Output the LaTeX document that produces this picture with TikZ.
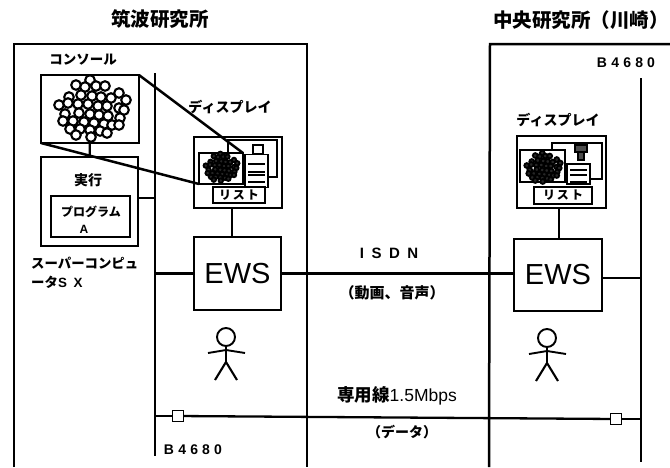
\documentclass[tikz,border=0pt]{standalone}
\usepackage{fontspec}
\setmainfont{Liberation Sans}
\newfontfamily\cjk{Noto Sans CJK JP}
\newfontfamily\spaced[LetterSpace=30]{Liberation Sans}
\newfontfamily\wide[LetterSpace=50]{Liberation Sans}
\newcommand{\blobcells}[1]{%
    \foreach \cx/\cy in {90/80,76/85,85/87,96/86,105/86,119/93,126/100,69/97,81/95,92/96,101/97,111/98,
                         59/105,68/103,78/104,88/104,98/106,107/106,119/108,65/114,79/113,
                         90/114,99/115,108/116,124/110,120/118,63/121,73/121,84/122,94/123,104/124,
                         70/129,80/129,90/130,100/131,112/125,119/125,107/133,
                         76/135,91/137}
        \draw[#1] (\cx,\cy) circle (4.8);
}
\tikzset{
    box/.style={draw, line width=2.3pt, rectangle, outer sep=0pt, inner sep=0pt, fill=white},
    wire/.style={line width=2.3pt},
    lab/.style={inner sep=0pt, font=\cjk\bfseries\fontsize{13.5}{16}\selectfont},
    tag/.style={inner sep=0pt, font=\spaced\bfseries\fontsize{14}{16}\selectfont}
}
\begin{document}
\begin{tikzpicture}[x=1pt,y=-1pt]
    \useasboundingbox (0,0) rectangle (670,467);
    \fill[white] (0,0) rectangle (670,467);
    % rooms
    \draw[line width=2.5pt] (14,467) -- (14,44) -- (307,44) -- (307,467);
    \draw[line width=2.5pt] (489,467) -- (490,44) -- (670,44);
    \node[inner sep=0pt, font=\cjk\bfseries\fontsize{19.5}{22}\selectfont] (title1) at (160,19) {筑波研究所};
    \node[inner sep=0pt, font=\cjk\bfseries\fontsize{19.5}{24}\selectfont] (title2) at (581,20) {中央研究所（川崎）};
    % buses
    \coordinate (bus1top) at (155,73);
    \coordinate (bus1bot) at (155,456);
    \coordinate (bus2top) at (641,78);
    \coordinate (bus2bot) at (641,462);
    \draw[line width=2.5pt] (bus1top) -- (bus1bot);
    \draw[line width=2.5pt] (bus2top) -- (bus2bot);
    % left side
    \node[box, minimum width=98pt, minimum height=68pt] (console) at (90,109) {};
    \begin{scope}
        \blobcells{line width=2.1pt, fill=white}
    \end{scope}
    \node[box, minimum width=97pt, minimum height=89pt] (super) at (89.5,201.5) {};
    \node[box, minimum width=79pt, minimum height=41pt] (prog) at (90.5,216.5) {};
    \coordinate (busa) at (155,198);
    \draw[wire] (console) -- (super);
    \draw[wire] (super.east |- busa) -- (busa);
    \node[lab] (conlab) at (83,60) {コンソール};
    \node[lab, font=\cjk\bfseries\fontsize{14}{16}\selectfont] (runlab) at (88,180) {実行};
    \node[lab, font=\cjk\bfseries\fontsize{12}{14}\selectfont] (proglab) at (91,212) {プログラム};
    \node[lab, font=\bfseries\fontsize{12}{14}\selectfont] (alab) at (84,229) {A};
    \node[anchor=west, align=left, inner sep=0pt, font=\cjk\bfseries\fontsize{13.4}{19}\selectfont] (sxlab) at (31,273)
        {スーパーコンピュ\\ータ{\wide\bfseries SX}};
    % left display
    \node[box, minimum width=88pt, minimum height=71pt] (disp1) at (238,172.5) {};
    \draw[line width=1.6pt] (228,153) -- (228,140) -- (277,140) -- (277,177) -- (268,177);
    \node[box, line width=1.6pt, minimum width=10pt, minimum height=9pt] (icon1) at (258,149.5) {};
    \node[box, line width=1.6pt, minimum width=23pt, minimum height=33pt] (doc1) at (256.5,171) {};
    \foreach \ly in {164,172,175,182}
        \draw[line width=1.3pt] (248,\ly) -- (265,\ly);
    \node[box, line width=1.9pt, minimum width=44pt, minimum height=31pt] (win1) at (221,168.5) {};
    \begin{scope}[shift={(222,167)},scale=.47,shift={(-93.5,-108)}]
        \blobcells{line width=1.8pt, fill=black!85}
    \end{scope}
    \node[box, line width=1.9pt, minimum width=52pt, minimum height=16pt, font=\cjk\bfseries\fontsize{12}{14}\selectfont] (list1) at (239,195) {リ\,ス\,ト};
    \draw[line width=2.5pt] (console.north east) -- (win1.north east);
    \draw[line width=2.5pt] (console.south west) -- (win1.south west);
    \node[lab, font=\cjk\bfseries\fontsize{14}{16}\selectfont] (displab1) at (230,107) {ディスプレイ};
    \node[box, minimum width=87pt, minimum height=73pt, font=\fontsize{29}{32}\selectfont] (ews1) at (237.5,273.5) {EWS};
    \draw[wire] (disp1.south -| 232,208) -- (ews1.north -| 232,237);
    \draw[wire] (bus1top |- ews1.west) -- (ews1.west);
    % right display
    \node[box, minimum width=89pt, minimum height=72pt] (disp2) at (561.5,172) {};
    \draw[line width=1.6pt] (552,150) -- (552,143) -- (602,143) -- (602,179) -- (590,179);
    \node[box, fill=black!70, line width=1.6pt, minimum width=12pt, minimum height=7pt] (icon2) at (581,148.5) {};
    \node[box, fill=black!70, line width=1.6pt, minimum width=6pt, minimum height=8pt] (icon2b) at (581,156) {};
    \node[box, line width=1.6pt, minimum width=23pt, minimum height=20pt] (doc2) at (578.5,174) {};
    \foreach \ly in {170,175,182}
        \draw[line width=1.3pt] (570,\ly) -- (587,\ly);
    \node[box, line width=1.9pt, minimum width=45pt, minimum height=32pt] (win2) at (542.5,166) {};
    \begin{scope}[shift={(544,167)},scale=.5,shift={(-93.5,-108)}]
        \blobcells{line width=1.8pt, fill=black!85}
    \end{scope}
    \node[box, line width=1.9pt, minimum width=58pt, minimum height=17pt, font=\cjk\bfseries\fontsize{12}{14}\selectfont] (list2) at (563,195.5) {リ\,ス\,ト};
    \node[lab, font=\cjk\bfseries\fontsize{14}{16}\selectfont] (displab2) at (558,120) {ディスプレイ};
    \node[box, minimum width=88pt, minimum height=72pt, font=\fontsize{29}{32}\selectfont] (ews2) at (558,275) {EWS};
    \draw[wire] (disp2.south -| 559,208) -- (ews2.north -| 559,239);
    \draw[wire] (ews2.east |- 0,278) -- (bus2top |- 0,278);
    \node[tag] (tag2) at (626,63) {B4680};
    \node[tag] (tag1) at (193,450) {B4680};
    % links
    \draw[wire] (ews1.east) -- (ews2.west |- ews1.east);
    \node[inner sep=0pt, font=\wide\bfseries\fontsize{15}{18}\selectfont] (isdn) at (389,253) {ISDN};
    \node[lab, font=\cjk\bfseries\fontsize{15}{18}\selectfont] (isdnlab) at (392,293) {（動画、音声）};
    \node[box, line width=1.9pt, minimum size=11pt] (sq1) at (178,416) {};
    \node[box, line width=1.9pt, minimum size=11pt] (sq2) at (616,419) {};
    \draw[wire] (sq1) -- (sq2);
    \draw[wire] (bus1top |- sq1) -- (sq1);
    \draw[wire] (sq2) -- (bus2top |- sq2);
    \node[inner sep=0pt, font=\bfseries\fontsize{17.5}{20}\selectfont] (linelab) at (397,396) {{\cjk 専用線}\mdseries 1.5Mbps};
    \node[lab, font=\cjk\bfseries\fontsize{14}{16}\selectfont] (datalab) at (402,432) {（データ）};
    % persons
    \foreach \px/\py in {0/0,321/1} {
        \begin{scope}[shift={(\px,\py)}]
            \draw[line width=1.9pt] (226,337) circle (9);
            \draw[line width=1.9pt] (208,353) -- (226,350) -- (245,353);
            \draw[line width=1.9pt] (226,346) -- (226,362);
            \draw[line width=2.1pt] (215,380) -- (226,362) -- (237,380);
        \end{scope}
    }
\end{tikzpicture}
\end{document}
